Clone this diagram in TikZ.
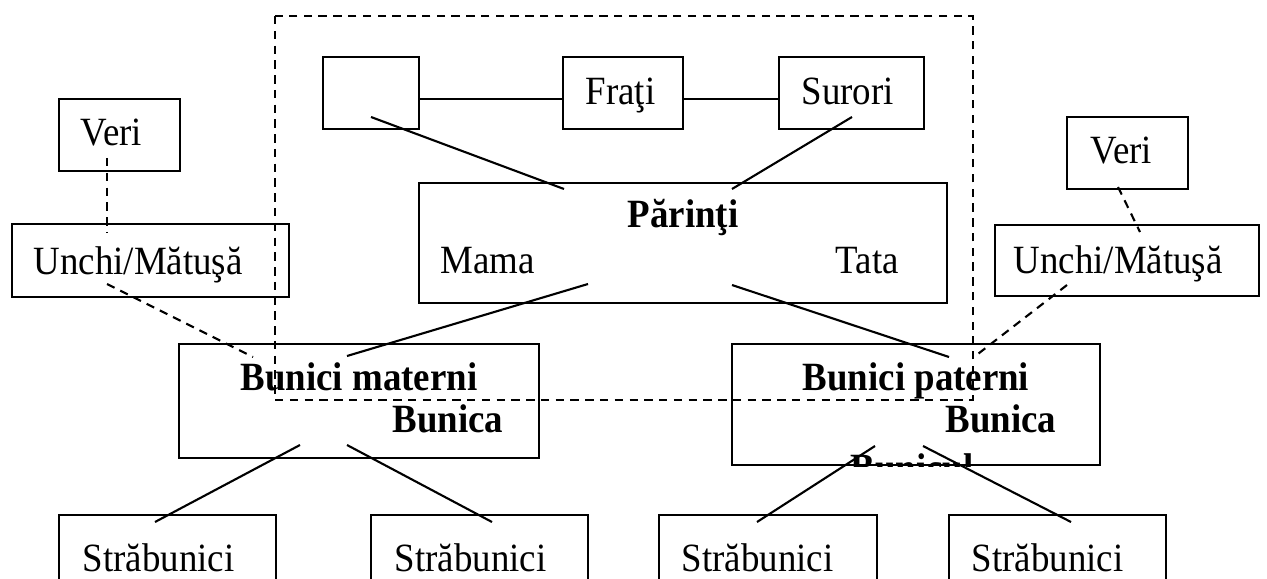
\documentclass[tikz,border=0pt]{standalone}
\usepackage{fontspec}
\setmainfont[FakeStretch=0.92]{Liberation Serif}
\usetikzlibrary{calc}
\begin{document}
\begin{tikzpicture}[x=.01cm,y=-.01cm,
	every node/.style={inner sep=0pt},
	box/.style={draw,rectangle,line width=.6pt},
	txt/.style={anchor=base west,font=\fontsize{11.4}{13.6}\selectfont},
	btxt/.style={font=\fontsize{11.4}{13.6}\selectfont\bfseries},
	conn/.style={line width=.6pt},
	dashconn/.style={line width=.6pt,dash pattern=on 2.4pt off 1.8pt}]
	\useasboundingbox (0,0) rectangle (1267,579);
	\clip (0,0) rectangle (1267,579);
	% left side
	\node[box,minimum width=1.21cm,minimum height=.72cm] (veriL) at (119.5,135) {};
	\node[box,minimum width=2.77cm,minimum height=.73cm] (unchiL) at (150.5,260.5) {};
	\node[txt] (tVeriL) at (80,146) {Veri};
	\node[txt] (tUnchiL) at (33,274) {Unchi/Mătuşă};
	% right side
	\node[box,minimum width=1.21cm,minimum height=.72cm] (veriR) at (1127.5,153) {};
	\node[box,minimum width=2.64cm,minimum height=.71cm] (unchiR) at (1127,260.5) {};
	\node[txt] (tVeriR) at (1090,163) {Veri};
	\node[txt] (tUnchiR) at (1013,273) {Unchi/Mătuşă};
	% top row
	\node[box,minimum width=.96cm,minimum height=.72cm] (blank) at (371,93) {};
	\node[box,minimum width=1.2cm,minimum height=.72cm] (frati) at (623,93) {};
	\node[box,minimum width=1.45cm,minimum height=.72cm] (surori) at (851.5,93) {};
	\node[txt] (tFrati) at (585,105) {Fraţi};
	\node[txt] (tSurori) at (801,105) {Surori};
	% parents
	\node[box,minimum width=5.28cm,minimum height=1.2cm] (parinti) at (683,243) {};
	\node[btxt,anchor=base] (tParinti) at (683,228) {Părinţi};
	\node[txt] (tMama) at (440,273) {Mama};
	\node[txt] (tTata) at (835,273) {Tata};
	% grandparents
	\node[box,minimum width=3.6cm,minimum height=1.14cm] (bmat) at (359,401) {};
	\node[btxt,anchor=base] (tBmat) at (359,390) {Bunici materni};
	\node[btxt,anchor=base west] (tBunicaM) at (392,432) {Bunica};
	\node[box,minimum width=3.68cm,minimum height=1.21cm] (bpat) at (916,404.5) {};
	\node[btxt,anchor=base] (tBpat) at (916,390) {Bunici paterni};
	\node[btxt,anchor=base west] (tBunicaP) at (945,432) {Bunica};
	\begin{scope}
		\clip (bpat.north west) rectangle (bpat.south east);
		\node[btxt,anchor=base west] (tBunicul) at (850,481) {Bunicul};
	\end{scope}
	% great-grandparents
	\node[box,minimum width=2.17cm,minimum height=1.35cm] (str1) at (167.5,582.5) {};
	\node[box,minimum width=2.17cm,minimum height=1.35cm] (str2) at (479.5,582.5) {};
	\node[box,minimum width=2.18cm,minimum height=1.35cm] (str3) at (768,582.5) {};
	\node[box,minimum width=2.17cm,minimum height=1.35cm] (str4) at (1057.5,582.5) {};
	\node[txt] (tStr1) at (82,571) {Străbunici};
	\node[txt] (tStr2) at (394,571) {Străbunici};
	\node[txt] (tStr3) at (681,571) {Străbunici};
	\node[txt] (tStr4) at (971,571) {Străbunici};
	% solid connectors
	\draw[conn] ($(blank.east)+(0,6)$) -- ($(frati.west)+(0,6)$);
	\draw[conn] ($(frati.east)+(0,6)$) -- ($(surori.west)+(0,6)$);
	\draw[conn] ($(blank)+(0,24)$) -- ($(parinti)+(-119,-54)$);
	\draw[conn] ($(surori)+(0.5,24)$) -- ($(parinti)+(49,-54)$);
	\draw[conn] ($(parinti)+(-95,41)$) -- ($(bmat)+(-12,-45)$);
	\draw[conn] ($(parinti)+(49,42)$) -- ($(bpat)+(33,-47.5)$);
	\draw[conn] ($(bmat)+(-59,44)$) -- ($(str1)+(-12.5,-60.5)$);
	\draw[conn] ($(bmat)+(-12,44)$) -- ($(str2)+(12.5,-60.5)$);
	\draw[conn] ($(bpat)+(-41,41.5)$) -- ($(str3)+(-11,-60.5)$);
	\draw[conn] ($(bpat)+(7,41.5)$) -- ($(str4)+(13.5,-60.5)$);
	% dashed connectors
	\draw[dashconn] ($(veriL)+(-12.5,23)$) -- ($(unchiL)+(-43.5,-28.5)$);
	\draw[dashconn] ($(unchiL)+(-43.5,23.5)$) -- ($(bmat)+(-106,-44)$);
	\draw[dashconn] ($(veriR)+(-9.5,34)$) -- ($(unchiR)+(13,-28.5)$);
	\draw[dashconn] ($(unchiR)+(-60,24.5)$) -- ($(bpat)+(58,-47.5)$);
	% family frame
	\draw[dashconn] (275,16) rectangle (973,400);
\end{tikzpicture}
\end{document}
